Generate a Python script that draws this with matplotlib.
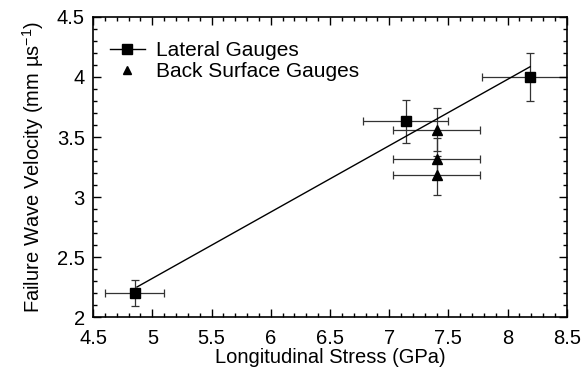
import matplotlib
matplotlib.use("Agg")
import matplotlib.pyplot as plt
from matplotlib.ticker import MultipleLocator
import numpy as np

plt.rcParams['font.family'] = ['Liberation Sans', 'DejaVu Sans']
plt.rcParams['mathtext.default'] = 'regular'

# Lateral gauges
lat_stress = np.array([4.85, 7.14, 8.19])
lat_vel = np.array([2.20, 3.63, 4.00])
lat_xerr = np.array([0.25, 0.36, 0.41])
lat_yerr = np.array([0.11, 0.18, 0.20])

# Back surface gauges
back_stress = np.array([7.40, 7.40, 7.40])
back_vel = np.array([3.56, 3.32, 3.18])
back_xerr = np.array([0.37, 0.37, 0.37])
back_yerr = np.array([0.18, 0.17, 0.16])

fs = 14.5

fig = plt.figure(figsize=(5.82, 3.77), dpi=100)
ax = fig.add_axes([0.16, 0.159, 0.814, 0.796])

# linear fit through lateral gauge points
slope, icpt = np.polyfit(lat_stress, lat_vel, 1)
fx = np.array([lat_stress.min() + 0.02, lat_stress.max()])
ax.plot(fx, slope * fx + icpt, color='black', lw=1.0, zorder=2)

ax.errorbar(lat_stress, lat_vel, xerr=lat_xerr, yerr=lat_yerr, fmt='none',
            ecolor='#333333', elinewidth=0.9, capsize=3, capthick=0.9, zorder=1)
ax.errorbar(back_stress, back_vel, xerr=back_xerr, yerr=back_yerr, fmt='none',
            ecolor='#333333', elinewidth=0.9, capsize=3, capthick=0.9, zorder=1)
ax.plot(lat_stress, lat_vel, 's', color='black', ms=7, zorder=3)
ax.plot(back_stress, back_vel, '^', color='black', ms=7, zorder=3)

# legend handles
h1, = ax.plot([], [], '-s', color='black', lw=1.0, ms=7)
h2, = ax.plot([], [], '^', color='black', ms=6)
ax.legend([h1, h2], ['Lateral Gauges', 'Back Surface Gauges'], loc='upper left',
          frameon=False, fontsize=fs + 0.5, handlelength=1.7, handletextpad=0.5,
          borderaxespad=0.4, labelspacing=0.1, bbox_to_anchor=(0.0, 0.975))

ax.set_xlim(4.5, 8.5)
ax.set_ylim(2, 4.5)
ax.xaxis.set_major_locator(MultipleLocator(0.5))
ax.xaxis.set_minor_locator(MultipleLocator(0.1))
ax.yaxis.set_major_locator(MultipleLocator(0.5))
ax.yaxis.set_minor_locator(MultipleLocator(0.1))
ax.set_xticks([4.5, 5, 5.5, 6, 6.5, 7, 7.5, 8, 8.5])
ax.set_xticklabels(['4.5', '5', '5.5', '6', '6.5', '7', '7.5', '8', '8.5'])
ax.set_yticks([2, 2.5, 3, 3.5, 4, 4.5])
ax.set_yticklabels(['2', '2.5', '3', '3.5', '4', '4.5'])
ax.tick_params(which='both', direction='in', top=True, right=True, labelsize=fs, width=1)
ax.tick_params(which='major', length=6)
ax.tick_params(which='minor', length=3)
ax.tick_params(axis='x', which='major', pad=8.5)
ax.tick_params(axis='y', which='major', pad=6)
for s in ax.spines.values():
    s.set_linewidth(1.2)

ax.set_xlabel('Longitudinal Stress (GPa)', fontsize=fs, labelpad=0)
ax.set_ylabel(r'Failure Wave Velocity (mm µs$^{-1}$)', fontsize=fs, labelpad=8)

fig.savefig('out.png', dpi=100)
